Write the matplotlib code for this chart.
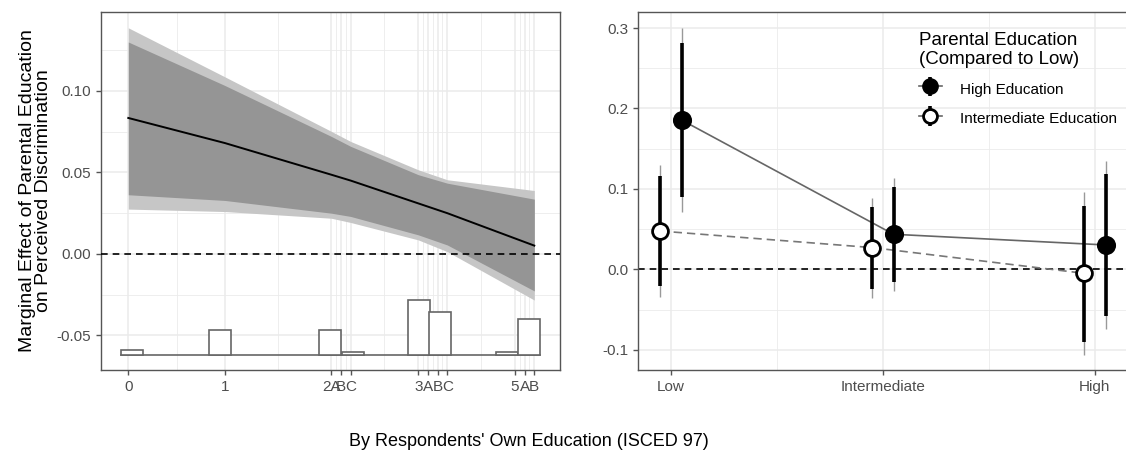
import numpy as np
import matplotlib
matplotlib.use("Agg")
import matplotlib.pyplot as plt
from matplotlib.legend_handler import HandlerErrorbar

plt.rcParams['font.family'] = ['Liberation Sans', 'DejaVu Sans']

# ---- left panel data (marginal effect over own education) ----
x_breaks = [0, 1, 2.1, 2.2, 2.3, 3, 3.1, 3.2, 3.3, 4, 4.1, 4.2]
x_labels = ["0", "1", "2A", "B", "C", "3", "A", "B", "C", "5", "A", "B"]

me_x = [0, 1, 2.1, 2.3, 3, 3.3, 4.2]
me_est = [0.0834, 0.068, 0.0486, 0.045, 0.031, 0.025, 0.0051]
me_hi95 = [0.1387, 0.1086, 0.0752, 0.069, 0.0516, 0.0455, 0.0389]
me_lo95 = [0.0275, 0.026, 0.0219, 0.0193, 0.0086, 0.0014, -0.0283]
me_hi90 = [0.130, 0.1033, 0.0721, 0.066, 0.0486, 0.0434, 0.0336]
me_lo90 = [0.0363, 0.0328, 0.025, 0.023, 0.0117, 0.0055, -0.0227]

# histogram of own education (bin edges and bar tops, drawn on the panel floor)
hist_base = -0.0618
hist_left = [-0.079, 0.838, 1.973, 2.207, 2.89, 3.114, 3.80, 4.028]
hist_top = [-0.0588, -0.0465, -0.0465, -0.0599, -0.0283, -0.0355, -0.0599, -0.0400]
hist_width = 0.2283

# ---- right panel data (categorical own education) ----
cats = ["Low", "Intermediate", "High"]
high_est = [0.1857, 0.0436, 0.0303]
high_lo90 = [0.0896, -0.0154, -0.0577]
high_hi90 = [0.2818, 0.1029, 0.1187]
high_lo95 = [0.0709, -0.027, -0.0747]
high_hi95 = [0.2998, 0.114, 0.1344]

int_est = [0.0476, 0.027, -0.005]
int_lo90 = [-0.0208, -0.0249, -0.090]
int_hi90 = [0.1164, 0.078, 0.0793]
int_lo95 = [-0.034, -0.0353, -0.1066]
int_hi95 = [0.1297, 0.0884, 0.0958]

W, H = 1126, 455
fig = plt.figure(figsize=(W / 100, H / 100), dpi=100)

grid_c = "#ebebeb"
border_c = "#555555"
tick_c = "#4d4d4d"


def style(ax):
    for s in ax.spines.values():
        s.set_color(border_c)
        s.set_linewidth(1.0)
    ax.tick_params(colors=border_c, labelcolor=tick_c, labelsize=11, length=3.5, width=1.0)
    ax.set_axisbelow(True)


def px_axes(l, t, r, b):
    return fig.add_axes([l / W, 1 - b / H, (r - l) / W, (b - t) / H])


# ---------------- left ----------------
ax1 = px_axes(100.7, 12, 560, 370)
style(ax1)
ax1.set_xlim(-0.2855, 4.466)
ax1.set_ylim(-0.0712, 0.1484)

# grid: majors at breaks, minors at midpoints
mids = [(a + b) / 2 for a, b in zip(x_breaks[:-1], x_breaks[1:])]
for v in mids:
    ax1.axvline(v, color=grid_c, lw=0.6, zorder=0)
for v in x_breaks:
    ax1.axvline(v, color=grid_c, lw=1.1, zorder=0)
for v in [-0.025, 0.025, 0.075, 0.125]:
    ax1.axhline(v, color=grid_c, lw=0.6, zorder=0)
for v in [-0.05, 0, 0.05, 0.10]:
    ax1.axhline(v, color=grid_c, lw=1.1, zorder=0)

ax1.fill_between(me_x, me_lo95, me_hi95, color="#c6c6c6", lw=0, zorder=1)
ax1.fill_between(me_x, me_lo90, me_hi90, color="#959595", lw=0, zorder=2)
ax1.plot(me_x, me_est, color="black", lw=1.4, zorder=3)
ax1.axhline(0, color="black", lw=1.2, ls=(0, (4, 3)), zorder=4)

# histogram
ax1.plot([hist_left[0], hist_left[-1] + hist_width], [hist_base, hist_base],
         color="#666666", lw=1.2, zorder=3)
for xl, top in zip(hist_left, hist_top):
    ax1.add_patch(plt.Rectangle((xl, hist_base), hist_width, top - hist_base,
                                facecolor="white", edgecolor="#666666", lw=1.2, zorder=3))

ax1.set_xticks(x_breaks)
ax1.set_xticklabels(x_labels)
ax1.set_yticks([-0.05, 0, 0.05, 0.10])
ax1.set_yticklabels(["-0.05", "0.00", "0.05", "0.10"])
ax1.set_ylabel("Marginal Effect of Parental Education\non Perceived Discrimination",
               fontsize=14, color="black", linespacing=0.95, labelpad=3)

# ---------------- right ----------------
ax2 = px_axes(638.3, 12, 1128, 370)
style(ax2)
ax2.spines["right"].set_visible(False)
ax2.set_xlim(0.846, 3.156)
ax2.set_ylim(-0.1252, 0.320)

for v in [1.5, 2.5]:
    ax2.axvline(v, color=grid_c, lw=0.6, zorder=0)
for v in [1, 2, 3]:
    ax2.axvline(v, color=grid_c, lw=1.1, zorder=0)
for v in [-0.05, 0.05, 0.15, 0.25]:
    ax2.axhline(v, color=grid_c, lw=0.6, zorder=0)
for v in [-0.1, 0, 0.1, 0.2, 0.3]:
    ax2.axhline(v, color=grid_c, lw=1.1, zorder=0)

ax2.axhline(0, color="black", lw=1.2, ls=(0, (4, 3)), zorder=1)

xpos = np.arange(1, len(cats) + 1)
dodge = 0.05
xh = xpos + dodge
xi = xpos - dodge

ax2.plot(xh, high_est, color="#666666", lw=1.2, zorder=2)
ax2.plot(xi, int_est, color="#777777", lw=1.2, ls=(0, (5, 3)), zorder=2)

ax2.vlines(xh, high_lo95, high_hi95, color="#999999", lw=1.0, zorder=3)
ax2.vlines(xi, int_lo95, int_hi95, color="#999999", lw=1.0, zorder=3)
ax2.vlines(xh, high_lo90, high_hi90, color="black", lw=2.6, zorder=4)
ax2.vlines(xi, int_lo90, int_hi90, color="black", lw=2.6, zorder=4)

ax2.scatter(xh, high_est, s=150, facecolor="black", edgecolor="black", lw=1.5, zorder=5)
ax2.scatter(xi, int_est, s=130, facecolor="white", edgecolor="black", lw=2.0, zorder=5)

ax2.set_xticks(xpos)
ax2.set_xticklabels(cats)
ax2.set_yticks([-0.1, 0, 0.1, 0.2, 0.3])
ax2.set_yticklabels(["-0.1", "0.0", "0.1", "0.2", "0.3"])

# legend keys: point + range + connecting line, like a pointrange key
eb_high = ax2.errorbar([np.nan], [np.nan], yerr=[[np.nan], [np.nan]], fmt="-o",
                       color="#666666", lw=1.2, ms=11, mfc="black", mec="black",
                       ecolor="black", elinewidth=2.6, capsize=0)
eb_int = ax2.errorbar([np.nan], [np.nan], yerr=[[np.nan], [np.nan]], fmt="-o",
                      color="#666666", lw=1.2, ms=10, mfc="white", mec="black", mew=2.0,
                      ecolor="black", elinewidth=2.6, capsize=0)
leg = ax2.legend([eb_high, eb_int], ["High Education", "Intermediate Education"],
                 handler_map={type(eb_high): HandlerErrorbar(xerr_size=0.5, yerr_size=0.65, numpoints=1)},
                 title="Parental Education\n(Compared to Low)", title_fontsize=13.5,
                 fontsize=11, frameon=False, loc="upper left",
                 bbox_to_anchor=(0.557, 0.966), alignment="left",
                 handlelength=1.5, handleheight=1.45, handletextpad=1.2,
                 labelspacing=0.76, borderpad=0)
leg.get_title().set_linespacing(1.15)

fig.text(529 / W, 1 - 441 / H, "By Respondents' Own Education (ISCED 97)",
         ha="center", va="center", fontsize=13)

fig.savefig("out.png", dpi=100)
